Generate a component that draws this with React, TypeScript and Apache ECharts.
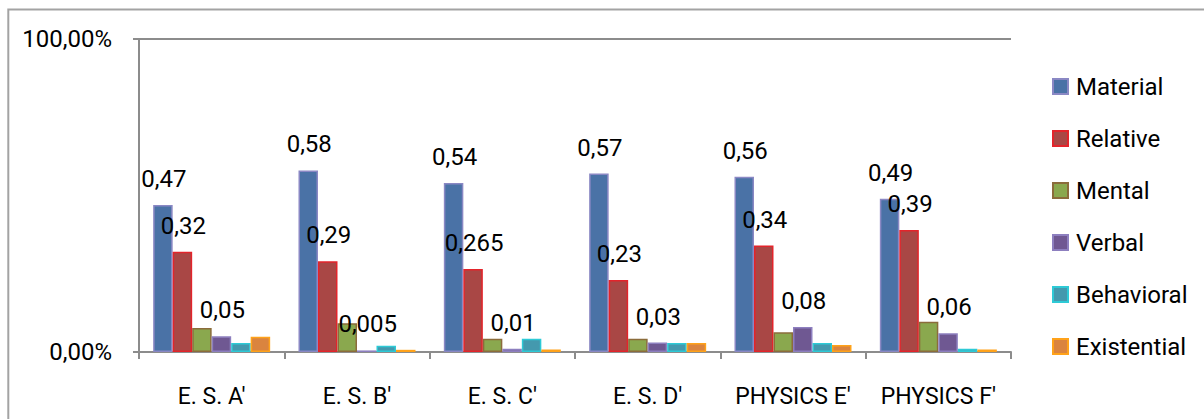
import React, { useEffect, useRef } from "react";
import * as echarts from "echarts";

const categories = ["E. S. A′", "E. S. B′", "E. S. C′", "E. S. D′", "PHYSICS E′", "PHYSICS F′"];
const seriesNames = ["Material", "Relative", "Mental", "Verbal", "Behavioral", "Existential"];
const material = [0.47, 0.58, 0.54, 0.57, 0.56, 0.49];
const relative = [0.32, 0.29, 0.265, 0.23, 0.34, 0.39];
const mental = [0.077, 0.092, 0.042, 0.042, 0.063, 0.097];
const verbal = [0.05, 0.005, 0.01, 0.03, 0.08, 0.06];
const behavioral = [0.029, 0.02, 0.042, 0.029, 0.029, 0.01];
const existential = [0.049, 0.007, 0.008, 0.029, 0.022, 0.008];
const yTicks = [0, 1];

const fills = ["#4a72a6", "#a94745", "#8aa84e", "#6f5892", "#4499ae", "#da843f"];
const borders = ["#8a88c4", "#e3242b", "#8b6c3b", "#8d7fbf", "#2ecad6", "#ffa21a"];
const labeled = [true, true, false, true, false, false];

const FONT = "Roboto";

export default function App() {
  const ref = useRef<HTMLDivElement>(null);
  useEffect(() => {
    if (!ref.current) return;
    const chart = echarts.init(ref.current, undefined, { renderer: "svg" });
    const data = [material, relative, mental, verbal, behavioral, existential];
    const fmt = (v: number) => String(v).replace(".", ",");
    chart.setOption({
      animation: false,
      backgroundColor: "#ffffff",
      textStyle: { fontFamily: FONT },
      graphic: [
        {
          type: "rect",
          shape: { x: 8.3, y: 9.5, width: 1400, height: 600 },
          style: { fill: "none", stroke: "#a3a3a3", lineWidth: 2 },
          silent: true,
        },
      ],
      grid: { left: 139, top: 39, right: 193, bottom: 67 },
      legend: {
        orient: "vertical",
        left: 1047,
        top: 69.5,
        itemWidth: 15,
        itemHeight: 15,
        itemGap: 28,
        icon: "rect",
        textStyle: {
          fontFamily: FONT,
          fontSize: 24,
          color: "#000",
          padding: [0, 0, 0, 3],
        },
        data: seriesNames,
      },
      xAxis: {
        type: "category",
        data: categories,
        boundaryGap: true,
        axisLine: { lineStyle: { color: "#8c8c8c", width: 2 } },
        axisTick: { show: true, length: 7, interval: 0, lineStyle: { color: "#8c8c8c", width: 2 } },
        axisLabel: { fontFamily: FONT, fontSize: 23, color: "#000", margin: 33, interval: 0 },
      },
      yAxis: {
        type: "value",
        min: yTicks[0],
        max: yTicks[yTicks.length - 1],
        interval: 1,
        axisLine: { show: true, lineStyle: { color: "#8c8c8c", width: 2 } },
        axisTick: { show: true, length: 6, lineStyle: { color: "#8c8c8c", width: 2 } },
        splitLine: { show: true, lineStyle: { color: "#8c8c8c", width: 2 } },
        axisLabel: {
          fontFamily: FONT,
          fontSize: 24,
          color: "#000",
          margin: 27,
          padding: [8, 0, 0, 0],
          formatter: (v: number) => (v * 100).toFixed(2).replace(".", ",") + "%",
        },
      },
      series: seriesNames.map((name, i) => ({
        name,
        type: "bar",
        data: data[i],
        barGap: "0%",
        barCategoryGap: "19.5%",
        itemStyle: { color: fills[i], borderColor: borders[i], borderWidth: 1.5 },
        label: {
          show: labeled[i],
          position: "top",
          distance: 14,
          offset: [1, 0],
          fontFamily: FONT,
          fontSize: 24,
          color: "#000",
          formatter: (p: any) => fmt(p.value),
        },
      })),
    });
    return () => chart.dispose();
  }, []);
  return (
    <div
      ref={ref}
      style={{ position: "fixed", left: 0, top: 0, width: 1204, height: 419 }}
    />
  );
}
